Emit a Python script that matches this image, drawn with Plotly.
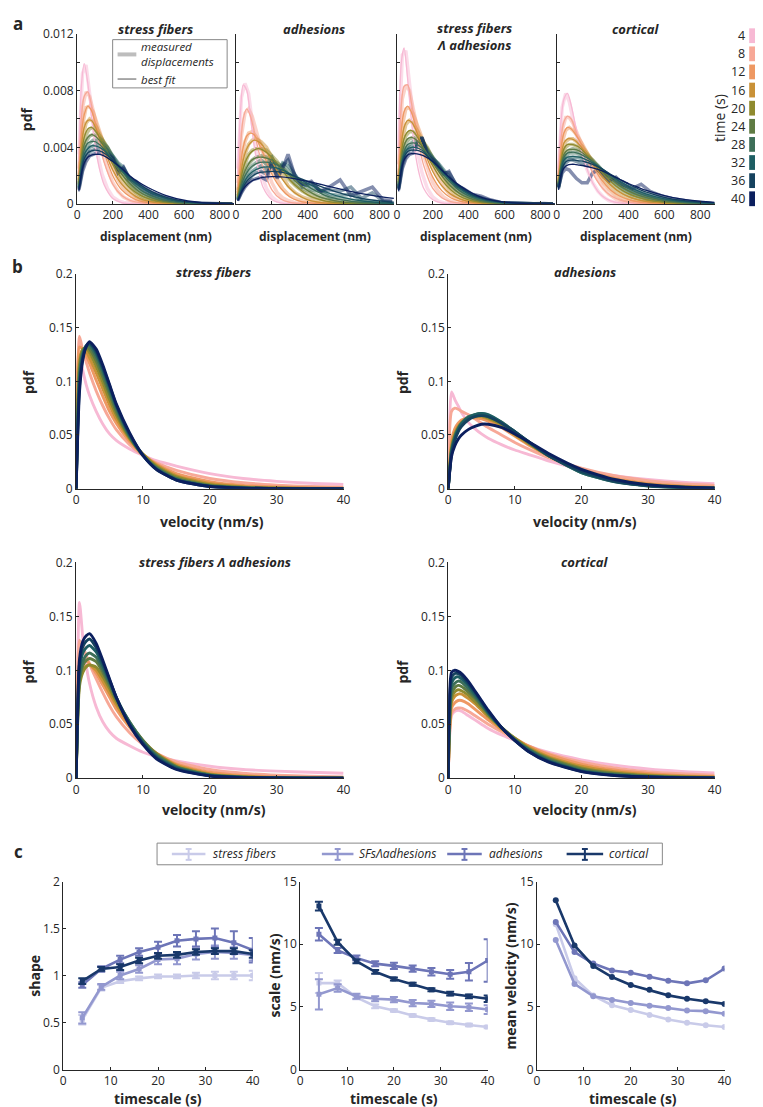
import plotly.graph_objects as go

W, H = 763, 1107
FONT = "Open Sans"
INK = "#262626"

def fx(px):
    return px / W

def fy(py):
    return 1 - py / H

# ---------------- data ----------------
times = [4, 8, 12, 16, 20, 24, 28, 32, 36, 40]
time_colors = ["#F7B9D4", "#F7A897", "#EE9862", "#C99137", "#8F8A2E",
               "#5F7B43", "#3D6F58", "#1E5E63", "#15425E", "#0B1F5E"]

# panel a: displacement pdfs (values x 1e-4)
disp_fit_x = [10, 25, 40, 60, 80, 100, 125, 150, 200, 250, 300, 350, 400, 450, 500, 600, 700, 800, 880]
disp_meas_x = [10, 30, 50, 70, 90, 110, 140, 170, 200, 230, 260, 290, 330, 370, 420, 470, 520, 580, 640, 700, 760, 820, 870]

sf_fit = [
    [30, 85, 99, 85, 62, 42, 25, 14, 4, 1, 0.3, 0.1, 0, 0, 0, 0, 0, 0, 0],
    [22, 62, 76, 79, 70, 57, 42, 30, 14, 6, 2.5, 1, 0.4, 0.1, 0, 0, 0, 0, 0],
    [18, 50, 63, 69, 66, 58, 47, 37, 20, 10, 5, 2.3, 1, 0.4, 0.2, 0, 0, 0, 0],
    [16, 42, 54, 59, 59, 55, 47, 39, 24, 14, 8, 4, 2, 1, 0.5, 0.1, 0, 0, 0],
    [14, 36, 47, 53, 54, 52, 47, 41, 28, 18, 11, 6.5, 3.8, 2.1, 1.2, 0.3, 0.1, 0, 0],
    [13, 32, 42, 47, 49, 48, 45, 41, 30, 21, 14, 8.5, 5.2, 3.1, 1.8, 0.5, 0.15, 0.05, 0],
    [12, 29, 38, 43, 44, 44, 42, 39, 31, 23, 16, 10.5, 6.8, 4.3, 2.6, 0.9, 0.3, 0.1, 0],
    [11, 26, 35, 39, 41, 41, 40, 38, 31, 24, 17.5, 12.5, 8.8, 6, 3.9, 1.5, 0.5, 0.15, 0.05],
    [10, 24, 32, 36, 37.5, 38, 37.5, 36, 31, 25, 19, 14, 10, 7, 4.7, 1.9, 0.7, 0.2, 0.07],
    [9, 22, 29, 33, 34.5, 35, 35, 34, 30, 25, 19.5, 15, 11.5, 8.5, 6, 2.7, 1, 0.35, 0.1],
]
adh_fit = [
    [20, 65, 84, 80, 62, 42, 24, 12, 3, 0.8, 0.2, 0, 0, 0, 0, 0, 0, 0, 0],
    [12, 40, 60, 67, 62, 52, 38, 26, 10, 3.5, 1.2, 0.4, 0.1, 0, 0, 0, 0, 0, 0],
    [8, 27, 40, 48, 50, 49, 43, 36, 21, 11, 5, 2.3, 1, 0.4, 0.2, 0, 0, 0, 0],
    [6, 20, 31, 39, 43, 45, 44, 41, 30, 19, 11, 6, 3, 1.5, 0.7, 0.15, 0, 0, 0],
    [5, 16, 25, 32, 36, 38, 39, 38, 33, 25, 17, 11, 6.5, 3.8, 2.1, 0.6, 0.15, 0, 0],
    [4, 13, 20, 26, 30, 32, 33, 33, 31, 26, 20, 14, 9.5, 6, 3.8, 1.4, 0.5, 0.15, 0.05],
    [3.5, 11, 17, 22, 25.5, 27.5, 29, 29.5, 29, 26, 21, 16.5, 12.5, 9, 6, 2.8, 1.2, 0.5, 0.2],
    [3, 9, 14, 18.5, 21.5, 23.5, 25, 26, 26, 24.5, 21.5, 18, 14.5, 11.5, 8.5, 4.5, 2.2, 1, 0.5],
    [2.5, 8, 12, 16, 18.5, 20.5, 22, 22.5, 23, 22.5, 21, 18.5, 16, 13.5, 11, 7, 4, 2.2, 1.3],
    [2.2, 7, 10.5, 13.5, 15.5, 17, 18, 18.8, 19.3, 19.2, 18.5, 17.3, 16, 14.5, 13, 10, 7.3, 5.2, 4],
]
sfa_fit = [
    [35, 100, 110, 88, 60, 38, 21, 11, 3, 0.8, 0.2, 0, 0, 0, 0, 0, 0, 0, 0],
    [25, 70, 83, 84, 72, 57, 40, 27, 11, 4.5, 1.7, 0.6, 0.2, 0, 0, 0, 0, 0, 0],
    [18, 52, 65, 69, 65, 57, 46, 35, 19, 9.5, 4.5, 2, 0.9, 0.4, 0.15, 0, 0, 0, 0],
    [15, 42, 54, 59, 58, 54, 46, 38, 23, 13, 7, 3.6, 1.8, 0.9, 0.4, 0.1, 0, 0, 0],
    [13, 36, 46, 51, 52, 50, 45, 39, 27, 17, 10, 5.5, 3, 1.6, 0.8, 0.2, 0.05, 0, 0],
    [12, 32, 41, 46, 47, 46, 43, 39, 29, 20, 12.5, 7.5, 4.3, 2.4, 1.3, 0.4, 0.1, 0, 0],
    [11, 29, 37, 42, 43, 43, 41, 38, 30, 22, 15, 9.5, 5.8, 3.4, 2, 0.6, 0.2, 0.05, 0],
    [10, 27, 35, 39, 40, 40, 39, 37, 30, 23, 16.5, 11, 7, 4.3, 2.6, 0.9, 0.3, 0.1, 0],
    [10, 26, 33, 37, 38, 38, 37.5, 36, 30, 24, 17.5, 12, 8, 5, 3.1, 1.1, 0.4, 0.1, 0.03],
    [9, 24, 31, 34.5, 35.5, 35.5, 35, 34, 30, 24, 18, 13, 9, 5.8, 3.6, 1.4, 0.5, 0.15, 0.05],
]
cort_fit = [
    [25, 60, 74, 78, 70, 58, 44, 32, 15, 6, 2.3, 0.8, 0.3, 0.1, 0, 0, 0, 0, 0],
    [20, 47, 58, 62, 60, 54, 45, 37, 22, 12, 6, 3, 1.4, 0.6, 0.3, 0.05, 0, 0, 0],
    [17, 40, 50, 54, 53, 50, 45, 39, 27, 17, 10, 5.7, 3.2, 1.7, 0.9, 0.25, 0.05, 0, 0],
    [15, 34, 43, 46, 46, 45, 42, 38, 29, 20, 13.5, 8.5, 5.2, 3.2, 1.9, 0.7, 0.25, 0.08, 0.03],
    [14, 31, 39, 42, 42, 41.5, 40, 37, 30, 22.5, 16, 11, 7.4, 4.9, 3.2, 1.3, 0.5, 0.2, 0.08],
    [13, 28, 35, 38, 38.5, 38.5, 37.5, 35.5, 30, 24, 18, 13, 9.3, 6.5, 4.5, 2, 0.9, 0.4, 0.15],
    [12.5, 27, 33, 36, 36.5, 36.5, 35.5, 34, 30, 24.5, 19.5, 14.8, 11, 8, 5.7, 2.8, 1.3, 0.6, 0.3],
    [12, 25, 31, 33, 33.5, 33.5, 33, 32, 29, 25, 20.5, 16.3, 12.5, 9.5, 7, 3.7, 1.9, 0.9, 0.5],
    [11, 23, 28, 30.5, 31, 31, 30.5, 30, 28, 25, 21, 17.5, 14, 11, 8.4, 4.8, 2.6, 1.4, 0.8],
    [10, 21, 25.5, 27.5, 28, 28, 27.5, 27, 25.5, 23.5, 20.5, 17.5, 14.5, 12, 9.6, 6, 3.5, 2, 1.2],
]

sf_meas = [
    [35, 92, 98, 78, 56, 38, 21, 11, 5, 2.5, 1.2, 0.5, 0.2, 0, 0, 0, 0, 0, 0, 0, 0, 0, 0],
    [25, 68, 79, 76, 66, 54, 38, 25, 15, 9, 5, 3, 1.3, 0.6, 0.2, 0, 0, 0, 0, 0, 0, 0, 0],
    [20, 55, 68, 69, 65, 58, 46, 35, 25, 17, 11, 7, 3.5, 1.8, 0.8, 0.3, 0.1, 0, 0, 0, 0, 0, 0],
    [17, 45, 57, 60, 58, 54, 46, 38, 29, 21, 15, 10, 5.5, 3, 1.5, 0.6, 0.3, 0.1, 0, 0, 0, 0, 0],
    [15, 38, 49, 53, 54, 51, 46, 40, 32, 25, 18, 13, 8, 4.7, 2.5, 1.2, 0.6, 0.2, 0.1, 0, 0, 0, 0],
    [14, 33, 44, 48, 49, 48, 45, 40, 33, 27, 21, 15, 10, 6.5, 3.5, 1.8, 1, 0.4, 0.2, 0.1, 0, 0, 0],
    [13, 30, 40, 43, 45, 45, 43, 40, 34, 28, 24, 17, 12, 8, 5, 2.8, 1.5, 0.7, 0.3, 0.1, 0.1, 0, 0],
    [12, 27, 36, 40, 41, 42, 41, 38, 34, 29, 26, 19, 14, 9.5, 6, 3.5, 2.2, 1, 0.5, 0.2, 0.1, 0.1, 0],
    [11, 25, 33, 37, 38, 39, 38, 36, 33, 24, 25, 19, 15, 11, 7, 5, 3, 1.3, 0.6, 0.3, 0.2, 0.1, 0],
    [10, 23, 30, 34, 35, 36, 36, 35, 32, 22, 26, 18, 16, 12, 8, 6, 4, 1.6, 0.8, 0.4, 0.2, 0.2, 0.1],
]
adh_meas = [
    [25, 75, 85, 78, 58, 40, 22, 11, 5, 2, 1, 0.5, 0.2, 0, 0, 0, 0, 0, 0, 0, 0, 0, 0],
    [15, 48, 64, 67, 62, 53, 38, 26, 15, 8, 4.5, 2.5, 1, 0.5, 0.2, 0, 0, 0, 0, 0, 0, 0, 0],
    [10, 32, 44, 50, 51, 48, 42, 34, 24, 17, 11, 7, 4, 2.2, 1, 0.5, 0.2, 0.1, 0, 0, 0, 0, 0],
    [8, 24, 35, 42, 45, 46, 44, 40, 33, 26, 19, 13, 8, 5, 3, 1.5, 0.8, 0.3, 0.1, 0, 0, 0, 0],
    [6, 19, 28, 35, 38, 39, 39, 38, 34, 30, 24, 18, 13, 9, 5.5, 3.5, 2, 1, 0.5, 0.2, 0.1, 0, 0],
    [5, 15, 23, 28, 31, 33, 34, 33, 31, 29, 26, 21, 15, 11, 8, 5.5, 3.5, 2, 1.2, 0.7, 0.4, 0.2, 0.1],
    [4, 12, 19, 24, 27, 29, 31, 28, 33, 25, 28, 24, 17, 15, 10, 9, 5, 4, 3, 1.5, 1, 0.5, 0.3],
    [3.5, 10, 16, 20, 23, 25, 27, 24, 30, 22, 29, 27, 20, 14, 13, 10, 7, 6, 7, 3, 2.5, 1.5, 0.8],
    [3, 9, 14, 17, 20, 22, 23, 21, 28, 19, 27, 31, 20, 12, 15, 9, 10, 9, 12, 4, 8, 2, 1.5],
    [2.5, 8, 12, 15, 17, 18, 19, 17, 31, 18, 25, 35, 19, 14, 16, 9, 12, 17, 6, 9, 12, 3, 2],
]
sfa_meas = [
    [40, 105, 108, 85, 60, 40, 22, 11, 5, 2, 1, 0.4, 0.1, 0, 0, 0, 0, 0, 0, 0, 0, 0, 0],
    [28, 74, 84, 80, 68, 55, 38, 26, 15, 9, 5, 2.5, 1, 0.4, 0.1, 0, 0, 0, 0, 0, 0, 0, 0],
    [20, 55, 67, 68, 64, 57, 46, 36, 26, 18, 12, 7.5, 4, 2, 0.8, 0.3, 0.1, 0, 0, 0, 0, 0, 0],
    [17, 45, 56, 59, 57, 53, 46, 38, 29, 22, 16, 11, 6, 3.4, 1.6, 0.7, 0.3, 0.1, 0, 0, 0, 0, 0],
    [15, 38, 48, 51, 51, 49, 45, 40, 32, 25, 19, 13.5, 8.5, 5, 2.6, 1.3, 0.6, 0.2, 0.1, 0, 0, 0, 0],
    [13, 34, 43, 46, 47, 46, 43, 39, 33, 27, 21, 16, 10, 6.5, 3.7, 1.9, 0.9, 0.4, 0.2, 0.1, 0, 0, 0],
    [12, 31, 39, 42, 44, 44, 45, 38, 33, 28, 22, 18, 12, 8, 4.8, 2.6, 1.3, 0.6, 0.3, 0.2, 0.1, 0, 0],
    [11, 29, 37, 40, 41, 43, 46, 37, 32, 29, 24, 20, 13, 9.5, 5.8, 3.3, 1.8, 0.8, 0.5, 0.2, 0.1, 0.1, 0],
    [11, 27, 34, 38, 39, 42, 47, 36, 32, 28, 22, 22, 14, 10.5, 6.5, 4.5, 2.5, 1, 0.6, 0.3, 0.2, 0.3, 0.1],
    [10, 25, 32, 35, 36, 40, 47, 34, 31, 26, 21, 23, 13, 11, 7, 5.5, 3, 1.2, 0.7, 0.3, 0.3, 0.4, 0.1],
]
cort_meas = [
    [25, 68, 78, 72, 60, 48, 35, 24, 15, 9, 5, 2.5, 1, 0.4, 0.1, 0, 0, 0, 0, 0, 0, 0, 0],
    [20, 52, 61, 61, 57, 51, 42, 33, 24, 17, 11, 7, 3.5, 1.8, 0.8, 0.3, 0.1, 0, 0, 0, 0, 0, 0],
    [17, 43, 52, 54, 52, 49, 43, 36, 28, 21, 15, 10.5, 6, 3.5, 1.8, 0.9, 0.4, 0.1, 0.05, 0, 0, 0, 0],
    [15, 36, 44, 46, 46, 44, 41, 36, 30, 24, 18.5, 14, 9, 6, 3.5, 2, 1, 0.4, 0.2, 0.1, 0, 0, 0],
    [14, 32, 40, 42, 42, 41, 39, 35, 31, 26, 21, 16, 11.5, 8, 5, 3.2, 1.8, 0.9, 0.4, 0.2, 0.1, 0, 0],
    [13, 29, 36, 38, 39, 38, 37, 34, 31, 27, 22.5, 18, 13.5, 10, 6.7, 4.5, 2.8, 1.5, 0.8, 0.4, 0.2, 0.1, 0],
    [12, 27, 34, 36, 36, 36, 34, 33, 30, 27, 23, 19, 15, 11.5, 8, 5.6, 3.7, 2.1, 1.2, 0.6, 0.3, 0.15, 0.1],
    [12, 26, 32, 33, 33, 33, 32, 30, 29, 26, 23, 20, 16, 12.5, 9.5, 7, 4.8, 3, 1.8, 1, 0.5, 0.3, 0.1],
    [11, 24, 29, 31, 31, 30, 29, 27, 28, 25, 22, 20, 17, 13.5, 11, 8, 6, 3.8, 2.5, 1.4, 0.8, 0.4, 0.2],
    [12, 22, 25, 24, 21, 18, 15, 15, 22, 24, 20, 16, 19, 14, 11, 14, 9, 6, 4, 2.5, 1.5, 0.7, 0.3],
]

# panel b: velocity pdfs
vel_x = [0, 0.5, 1, 1.5, 2, 3, 4, 5, 6, 8, 10, 12, 15, 20, 25, 30, 35, 40]
sf_vel = [
    [0, 0.125, 0.11, 0.097, 0.087, 0.072, 0.06, 0.051, 0.045, 0.037, 0.031, 0.026, 0.021, 0.014, 0.0095, 0.0068, 0.005, 0.004],
    [0, 0.142, 0.128, 0.118, 0.108, 0.091, 0.077, 0.065, 0.055, 0.041, 0.031, 0.024, 0.017, 0.0095, 0.0055, 0.0033, 0.002, 0.0013],
    [0, 0.132, 0.13, 0.124, 0.117, 0.101, 0.086, 0.072, 0.061, 0.044, 0.032, 0.023, 0.014, 0.0065, 0.003, 0.0015, 0.0007, 0.0004],
    [0, 0.12, 0.13, 0.128, 0.122, 0.108, 0.093, 0.078, 0.065, 0.046, 0.032, 0.022, 0.012, 0.0048, 0.0019, 0.0008, 0.0003, 0.0001],
    [0, 0.115, 0.13, 0.131, 0.127, 0.114, 0.099, 0.083, 0.069, 0.047, 0.032, 0.021, 0.011, 0.0037, 0.0013, 0.0005, 0.0002, 0.0001],
    [0, 0.11, 0.128, 0.132, 0.13, 0.119, 0.104, 0.088, 0.072, 0.048, 0.031, 0.02, 0.0095, 0.003, 0.001, 0.0003, 0.0001, 0],
    [0, 0.105, 0.126, 0.133, 0.133, 0.123, 0.108, 0.091, 0.075, 0.049, 0.031, 0.019, 0.009, 0.0025, 0.0007, 0.0002, 0, 0],
    [0, 0.1, 0.124, 0.133, 0.135, 0.126, 0.111, 0.094, 0.077, 0.05, 0.031, 0.0185, 0.0085, 0.0022, 0.0006, 0.0001, 0, 0],
    [0, 0.095, 0.122, 0.133, 0.136, 0.128, 0.113, 0.096, 0.078, 0.051, 0.031, 0.018, 0.008, 0.002, 0.0005, 0.0001, 0, 0],
    [0, 0.09, 0.12, 0.132, 0.137, 0.13, 0.115, 0.097, 0.079, 0.052, 0.031, 0.018, 0.008, 0.002, 0.0005, 0.0001, 0, 0],
]
adh_vel = [
    [0, 0.09, 0.083, 0.077, 0.071, 0.062, 0.056, 0.051, 0.047, 0.041, 0.036, 0.032, 0.026, 0.018, 0.012, 0.0085, 0.006, 0.0045],
    [0, 0.072, 0.075, 0.074, 0.072, 0.069, 0.065, 0.061, 0.057, 0.05, 0.043, 0.037, 0.029, 0.019, 0.012, 0.0075, 0.0045, 0.003],
    [0, 0.045, 0.056, 0.061, 0.064, 0.066, 0.066, 0.065, 0.063, 0.057, 0.049, 0.041, 0.031, 0.018, 0.0095, 0.005, 0.0025, 0.0013],
    [0, 0.04, 0.052, 0.058, 0.062, 0.066, 0.067, 0.067, 0.065, 0.059, 0.05, 0.042, 0.031, 0.017, 0.0085, 0.004, 0.002, 0.001],
    [0, 0.038, 0.05, 0.057, 0.061, 0.066, 0.068, 0.068, 0.066, 0.06, 0.051, 0.043, 0.031, 0.016, 0.0075, 0.0035, 0.0015, 0.0007],
    [0, 0.036, 0.049, 0.056, 0.061, 0.066, 0.068, 0.069, 0.067, 0.061, 0.052, 0.043, 0.031, 0.016, 0.007, 0.003, 0.0013, 0.0005],
    [0, 0.035, 0.048, 0.056, 0.061, 0.067, 0.069, 0.07, 0.068, 0.062, 0.053, 0.044, 0.031, 0.015, 0.0065, 0.0027, 0.001, 0.0004],
    [0, 0.034, 0.047, 0.055, 0.06, 0.066, 0.069, 0.07, 0.069, 0.062, 0.053, 0.044, 0.031, 0.015, 0.0063, 0.0025, 0.001, 0.0004],
    [0, 0.032, 0.045, 0.053, 0.058, 0.064, 0.067, 0.068, 0.067, 0.061, 0.053, 0.044, 0.031, 0.016, 0.0068, 0.0028, 0.0011, 0.0004],
    [0, 0.03, 0.04, 0.046, 0.05, 0.055, 0.058, 0.06, 0.06, 0.057, 0.051, 0.044, 0.033, 0.018, 0.0085, 0.0037, 0.0015, 0.0006],
]
sfa_vel = [
    [0, 0.163, 0.13, 0.105, 0.088, 0.066, 0.052, 0.043, 0.037, 0.03, 0.024, 0.02, 0.016, 0.011, 0.008, 0.0065, 0.0055, 0.0045],
    [0, 0.128, 0.122, 0.114, 0.106, 0.092, 0.079, 0.067, 0.057, 0.042, 0.031, 0.023, 0.015, 0.008, 0.0045, 0.0027, 0.0017, 0.0011],
    [0, 0.105, 0.11, 0.109, 0.106, 0.097, 0.086, 0.075, 0.064, 0.047, 0.033, 0.023, 0.013, 0.0055, 0.0025, 0.0012, 0.0006, 0.0003],
    [0, 0.09, 0.1, 0.104, 0.105, 0.1, 0.09, 0.079, 0.068, 0.049, 0.034, 0.023, 0.012, 0.004, 0.0015, 0.0006, 0.0002, 0.0001],
    [0, 0.085, 0.098, 0.103, 0.105, 0.103, 0.094, 0.083, 0.071, 0.051, 0.035, 0.023, 0.011, 0.0035, 0.0012, 0.0004, 0.0001, 0],
    [0, 0.09, 0.104, 0.109, 0.111, 0.108, 0.098, 0.086, 0.073, 0.052, 0.035, 0.022, 0.0105, 0.003, 0.001, 0.0003, 0.0001, 0],
    [0, 0.093, 0.108, 0.114, 0.116, 0.112, 0.101, 0.088, 0.074, 0.052, 0.034, 0.021, 0.01, 0.0028, 0.0008, 0.0002, 0, 0],
    [0, 0.1, 0.116, 0.121, 0.123, 0.117, 0.104, 0.09, 0.075, 0.051, 0.033, 0.02, 0.0092, 0.0025, 0.0007, 0.0002, 0, 0],
    [0, 0.106, 0.122, 0.127, 0.129, 0.121, 0.107, 0.091, 0.075, 0.05, 0.032, 0.019, 0.0085, 0.0022, 0.0006, 0.0001, 0, 0],
    [0, 0.11, 0.127, 0.132, 0.134, 0.125, 0.109, 0.092, 0.075, 0.049, 0.031, 0.018, 0.008, 0.002, 0.0005, 0.0001, 0, 0],
]
cort_vel = [
    [0, 0.058, 0.062, 0.063, 0.062, 0.058, 0.054, 0.05, 0.046, 0.04, 0.035, 0.03, 0.024, 0.017, 0.012, 0.0085, 0.0062, 0.0047],
    [0, 0.06, 0.064, 0.065, 0.065, 0.062, 0.058, 0.054, 0.05, 0.043, 0.036, 0.03, 0.023, 0.015, 0.0095, 0.006, 0.004, 0.0027],
    [0, 0.065, 0.07, 0.072, 0.072, 0.069, 0.064, 0.059, 0.054, 0.045, 0.037, 0.03, 0.022, 0.013, 0.0075, 0.0043, 0.0025, 0.0015],
    [0, 0.07, 0.076, 0.078, 0.078, 0.074, 0.069, 0.063, 0.057, 0.046, 0.037, 0.029, 0.02, 0.011, 0.006, 0.0032, 0.0017, 0.0009],
    [0, 0.074, 0.08, 0.082, 0.081, 0.077, 0.071, 0.065, 0.058, 0.047, 0.037, 0.028, 0.019, 0.0095, 0.0048, 0.0024, 0.0012, 0.0006],
    [0, 0.078, 0.084, 0.086, 0.085, 0.08, 0.074, 0.067, 0.06, 0.047, 0.036, 0.027, 0.018, 0.0085, 0.004, 0.0019, 0.0009, 0.0004],
    [0, 0.083, 0.088, 0.09, 0.089, 0.083, 0.076, 0.068, 0.06, 0.047, 0.036, 0.027, 0.017, 0.0075, 0.0033, 0.0015, 0.0007, 0.0003],
    [0, 0.088, 0.093, 0.094, 0.092, 0.086, 0.078, 0.07, 0.061, 0.047, 0.035, 0.026, 0.016, 0.0068, 0.0029, 0.0012, 0.0005, 0.0002],
    [0, 0.093, 0.097, 0.097, 0.095, 0.088, 0.08, 0.071, 0.062, 0.047, 0.035, 0.025, 0.0155, 0.0063, 0.0026, 0.0011, 0.0004, 0.0002],
    [0, 0.098, 0.1, 0.099, 0.097, 0.09, 0.081, 0.072, 0.063, 0.047, 0.035, 0.025, 0.015, 0.006, 0.0024, 0.001, 0.0004, 0.0001],
]

# panel c: fit parameters vs timescale
timescale = [4, 8, 12, 16, 20, 24, 28, 32, 36, 40]
group_names = ["stress fibers", "SFsΛadhesions", "adhesions", "cortical"]
group_colors = ["#C9CBE9", "#9398CF", "#6D75B7", "#19386A"]
shape_vals = [
    [0.53, 0.87, 0.94, 0.97, 0.99, 0.99, 1.0, 1.0, 1.0, 1.0],
    [0.55, 0.88, 1.0, 1.07, 1.17, 1.18, 1.23, 1.25, 1.24, 1.22],
    [0.9, 1.07, 1.17, 1.25, 1.3, 1.37, 1.39, 1.40, 1.35, 1.27],
    [0.94, 1.07, 1.09, 1.16, 1.21, 1.22, 1.25, 1.26, 1.26, 1.23],
]
shape_err = [
    [0.05, 0.03, 0.02, 0.02, 0.02, 0.02, 0.03, 0.04, 0.04, 0.05],
    [0.06, 0.03, 0.04, 0.04, 0.05, 0.06, 0.06, 0.07, 0.06, 0.06],
    [0.03, 0.03, 0.04, 0.04, 0.06, 0.06, 0.08, 0.1, 0.12, 0.13],
    [0.03, 0.02, 0.03, 0.03, 0.03, 0.03, 0.03, 0.03, 0.03, 0.04],
]
scale_vals = [
    [6.9, 6.9, 5.76, 5.05, 4.71, 4.32, 4.0, 3.74, 3.56, 3.4],
    [6.0, 6.5, 5.84, 5.65, 5.58, 5.31, 5.24, 5.05, 4.97, 4.79],
    [10.8, 9.5, 8.9, 8.45, 8.27, 8.06, 7.8, 7.6, 7.8, 8.7],
    [13.04, 10.16, 8.64, 7.8, 7.23, 6.8, 6.36, 6.05, 5.84, 5.65],
]
scale_err = [
    [0.8, 0.2, 0.15, 0.15, 0.1, 0.1, 0.1, 0.1, 0.1, 0.1],
    [1.2, 0.3, 0.2, 0.2, 0.2, 0.25, 0.25, 0.3, 0.3, 0.35],
    [0.5, 0.2, 0.2, 0.2, 0.25, 0.25, 0.3, 0.35, 0.7, 1.7],
    [0.35, 0.2, 0.15, 0.15, 0.12, 0.12, 0.12, 0.15, 0.15, 0.25],
]
mean_vel = [
    [11.6, 7.28, 5.9, 5.13, 4.76, 4.35, 4.0, 3.74, 3.53, 3.4],
    [10.34, 6.83, 5.84, 5.55, 5.31, 5.1, 4.92, 4.71, 4.66, 4.45],
    [11.78, 9.37, 8.46, 7.9, 7.72, 7.4, 7.09, 6.88, 7.12, 8.06],
    [13.5, 9.9, 8.27, 7.38, 6.75, 6.36, 5.92, 5.65, 5.45, 5.24],
]

# ---------------- layout helpers ----------------
layout = dict(width=W, height=H, margin=dict(l=0, r=0, t=0, b=0),
              paper_bgcolor="white", plot_bgcolor="white", showlegend=False,
              font=dict(family=FONT, color=INK, size=12))
annotations = []
shapes = []


def add_axes(i, x0, x1, ytop, ybot, xr, yr, xt, yt, ytt=None, show_y=True):
    sx = "" if i == 1 else str(i)
    common = dict(showgrid=False, zeroline=False, showline=True, linecolor=INK,
                  linewidth=1, ticks="inside", ticklen=3, tickcolor=INK,
                  tickfont=dict(family=FONT, size=12, color=INK), fixedrange=True)
    layout["xaxis" + sx] = dict(domain=[fx(x0), fx(x1)], range=xr, anchor="y" + sx,
                                tickvals=xt, ticktext=[str(v) for v in xt], **common)
    layout["yaxis" + sx] = dict(domain=[fy(ybot), fy(ytop)], range=yr, anchor="x" + sx,
                                tickvals=yt, ticktext=ytt if ytt else [str(v) for v in yt],
                                showticklabels=show_y, **common)
    return "x" + sx, "y" + sx


def ann(text, px, py, size=12, angle=0, xanchor="center", color=INK, align="center"):
    annotations.append(dict(text=text, x=fx(px), y=fy(py), xref="paper", yref="paper",
                            showarrow=False, xanchor=xanchor, yanchor="middle",
                            align=align, textangle=angle,
                            font=dict(family=FONT, size=size, color=color)))


def pline(x0, y0, x1, y1, color, width):
    shapes.append(dict(type="line", xref="paper", yref="paper", x0=fx(x0), y0=fy(y0),
                       x1=fx(x1), y1=fy(y1), line=dict(color=color, width=width)))


fig = go.Figure()

# ---------------- panel a ----------------
a_boxes = [(67, 226), (228, 388), (391, 551), (553, 713)]
a_fit = [sf_fit, adh_fit, sfa_fit, cort_fit]
a_meas = [sf_meas, adh_meas, sfa_meas, cort_meas]
a_yt = [0, 0.002, 0.004, 0.006, 0.008, 0.010, 0.012]
a_ytt = ["0", "", "0.004", "", "0.008", "", "0.012"]
for k, (x0, x1) in enumerate(a_boxes):
    xa, ya = add_axes(k + 1, x0, x1, 17, 190, [0, 880], [0, 0.012],
                      [0, 200, 400, 600, 800], a_yt, a_ytt, show_y=(k == 0))
    for j, t in enumerate(times):
        fig.add_trace(go.Scatter(x=disp_meas_x, y=[v * 1e-4 for v in a_meas[k][j]],
                                 xaxis=xa, yaxis=ya, mode="lines", opacity=0.5,
                                 line=dict(color=time_colors[j], width=3.5),
                                 hoverinfo="skip"))
    for j, t in enumerate(times):
        fig.add_trace(go.Scatter(x=disp_fit_x, y=[v * 1e-4 for v in a_fit[k][j]],
                                 xaxis=xa, yaxis=ya, mode="lines",
                                 line=dict(color=time_colors[j], width=1.3,
                                           shape="spline", smoothing=0.8),
                                 hoverinfo="skip"))

ann("<b><i>stress fibers</i></b>", 146, 12, 13)
ann("<b><i>adhesions</i></b>", 307, 12, 13)
ann("<b><i>stress fibers<br>Λ adhesions</i></b>", 470, 20, 13)
ann("<b><i>cortical</i></b>", 633, 12, 13)
ann("<b>pdf</b>", 16, 103, 14, angle=-90)
for cx in [147, 308, 471, 633]:
    ann("<b>displacement (nm)</b>", cx, 223, 12)

# legend inside first panel
shapes.append(dict(type="rect", xref="paper", yref="paper", x0=fx(103), x1=fx(219),
                   y0=fy(72), y1=fy(23), line=dict(color="#888888", width=1),
                   fillcolor="white"))
pline(108, 38, 127, 38, "#BDBDBD", 4)
pline(108, 63, 127, 63, "#555555", 1)
ann("<i>measured<br>displacements</i>", 130, 38, 11.5, xanchor="left", align="left")
ann("<i>best fit</i>", 130, 63, 11.5, xanchor="left", align="left")

# time colour key
for j, t in enumerate(times):
    cy = 19 + 18.4 * j
    shapes.append(dict(type="rect", xref="paper", yref="paper", x0=fx(748), x1=fx(766),
                       y0=fy(cy + 7.5), y1=fy(cy - 7.5), line=dict(width=0),
                       fillcolor=time_colors[j]))
    ann(str(t), 746, cy, 12.5, xanchor="right")
ann("time (s)", 718, 103, 14, angle=-90)

# ---------------- panel b ----------------
b_boxes = [(66, 337, 261, 479), (443, 713, 261, 479), (66, 337, 554, 773), (443, 713, 554, 773)]
b_data = [sf_vel, adh_vel, sfa_vel, cort_vel]
b_yt = [0, 0.05, 0.1, 0.15, 0.2]
b_ytt = ["0", "0.05", "0.1", "0.15", "0.2"]
for k, (x0, x1, yt0, yb0) in enumerate(b_boxes):
    xa, ya = add_axes(k + 5, x0, x1, yt0, yb0, [0, 40], [0, 0.2],
                      [0, 10, 20, 30, 40], b_yt, b_ytt)
    for j, t in enumerate(times):
        fig.add_trace(go.Scatter(x=vel_x, y=b_data[k][j], xaxis=xa, yaxis=ya, mode="lines",
                                 line=dict(color=time_colors[j], width=2.9,
                                           shape="spline", smoothing=0.6),
                                 hoverinfo="skip"))

ann("<b><i>stress fibers</i></b>", 205, 259, 13)
ann("<b><i>adhesions</i></b>", 582, 259, 13)
ann("<b><i>stress fibers Λ adhesions</i></b>", 207, 553, 13)
ann("<b><i>cortical</i></b>", 582, 553, 13)
for (px, py) in [(18, 370), (397, 370), (18, 664), (397, 664)]:
    ann("<b>pdf</b>", px, py, 14, angle=-90)
for (px, py) in [(204, 512), (582, 512), (206, 805), (582, 805)]:
    ann("<b>velocity (nm/s)</b>", px, py, 14)

# ---------------- panel c ----------------
xa, ya = add_axes(9, 53, 245, 878, 1069, [0, 40], [0, 2], [0, 10, 20, 30, 40],
                  [0, 0.5, 1, 1.5, 2], ["0", "0.5", "1", "1.5", "2"])
for g in range(4):
    fig.add_trace(go.Scatter(x=timescale, y=shape_vals[g], xaxis=xa, yaxis=ya,
                             mode="lines+markers",
                             line=dict(color=group_colors[g], width=2.6),
                             marker=dict(symbol="square", size=5, color=group_colors[g]),
                             error_y=dict(type="data", array=shape_err[g], thickness=2,
                                          width=4, color=group_colors[g]),
                             hoverinfo="skip"))
xa, ya = add_axes(10, 293, 483, 878, 1069, [0, 40], [0, 15], [0, 10, 20, 30, 40],
                  [0, 5, 10, 15])
for g in range(4):
    fig.add_trace(go.Scatter(x=timescale, y=scale_vals[g], xaxis=xa, yaxis=ya,
                             mode="lines+markers",
                             line=dict(color=group_colors[g], width=2.6),
                             marker=dict(symbol="square", size=5, color=group_colors[g]),
                             error_y=dict(type="data", array=scale_err[g], thickness=2,
                                          width=4, color=group_colors[g]),
                             hoverinfo="skip"))
xa, ya = add_axes(11, 533, 723, 878, 1069, [0, 40], [0, 15], [0, 10, 20, 30, 40],
                  [0, 5, 10, 15])
for g in range(4):
    fig.add_trace(go.Scatter(x=timescale, y=mean_vel[g], xaxis=xa, yaxis=ya,
                             mode="lines+markers",
                             line=dict(color=group_colors[g], width=2.6),
                             marker=dict(symbol="circle", size=6, color=group_colors[g]),
                             hoverinfo="skip"))

ann("<b>shape</b>", 23, 974, 14, angle=-90)
ann("<b>scale (nm/s)</b>", 267, 974, 14, angle=-90)
ann("<b>mean velocity (nm/s)</b>", 506, 974, 14, angle=-90)
for cx in [149, 388, 630]:
    ann("<b>timescale (s)</b>", cx, 1098, 14)

# legend for panel c
shapes.append(dict(type="rect", xref="paper", yref="paper", x0=fx(148), x1=fx(660),
                   y0=fy(861), y1=fy(839), line=dict(color="#888888", width=1),
                   fillcolor="white"))
leg_pos = [(163, 197, 203), (315, 347, 351), (442, 477, 482), (563, 600, 604)]
for g, (l0, l1, tx) in enumerate(leg_pos):
    col = group_colors[g]
    pline(l0, 850, l1, 850, col, 2.6)
    mid = (l0 + l1) / 2
    pline(mid, 845, mid, 856, col, 2)
    pline(mid - 3, 845, mid + 3, 845, col, 2)
    pline(mid - 3, 856, mid + 3, 856, col, 2)
    ann("<i>" + group_names[g] + "</i>", tx, 850, 12, xanchor="left")

# panel letters
ann("<b>a</b>", 7, 7, 17)
ann("<b>b</b>", 7, 253, 17)
ann("<b>c</b>", 8, 848, 17)

layout["annotations"] = annotations
layout["shapes"] = shapes
fig.update_layout(**layout)
fig.write_html("out.html")
